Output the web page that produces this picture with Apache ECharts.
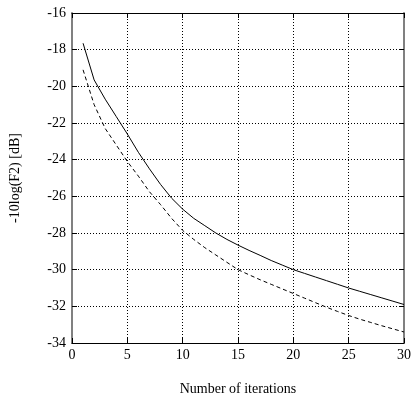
<!DOCTYPE html>
<html><head><meta charset="utf-8">
<script src="https://cdn.jsdelivr.net/npm/echarts@6/dist/echarts.min.js"></script>
<style>html,body{margin:0;padding:0;background:#fff}#c{width:414px;height:401px}</style>
</head><body><div id="c"></div>
<script>
var iterations = [1,2,3,4,5,6,7,8,9,10,11,12,13,14,15,16,17,18,19,20,21,22,23,24,25,26,27,28,29,30];
var solidValues = [-17.65,-19.65,-20.7,-21.65,-22.6,-23.6,-24.5,-25.35,-26.1,-26.7,-27.2,-27.6,-28.0,-28.35,-28.66,-28.95,-29.22,-29.5,-29.75,-30.0,-30.2,-30.4,-30.6,-30.8,-31.0,-31.18,-31.36,-31.54,-31.72,-31.9];
var dashedValues = [-19.1,-21.0,-22.3,-23.2,-24.1,-24.9,-25.75,-26.45,-27.2,-27.86,-28.35,-28.8,-29.2,-29.6,-30.0,-30.28,-30.55,-30.8,-31.05,-31.3,-31.55,-31.8,-32.05,-32.28,-32.5,-32.7,-32.88,-33.06,-33.23,-33.4];
var xTitle = 'Number of iterations';
var yTitle = '-10log(F2) [dB]';

function pairs(xs, ys){ return xs.map(function(x,i){return [x, ys[i]];}); }
var font = 'Liberation Serif';
var chart = echarts.init(document.getElementById('c'), null, {renderer:'canvas'});
var tickIn = {show:true, inside:true, length:5, lineStyle:{color:'#000', width:1}};
chart.setOption({
  animation:false,
  backgroundColor:'#fff',
  grid:{left:69, right:8, top:13, bottom:51, containLabel:false},
  xAxis:[{
    type:'value', min:0, max:30, interval:5, position:'bottom',
    name:xTitle, nameLocation:'middle', nameGap:39,
    nameTextStyle:{fontFamily:font, fontSize:14, color:'#000'},
    axisLine:{show:true, onZero:false, lineStyle:{color:'#000', width:1}},
    axisTick:tickIn,
    axisLabel:{fontFamily:font, fontSize:14, color:'#000', margin:5},
    splitLine:{show:true, lineStyle:{color:'#000', type:[1,2], width:1}}
  },{
    type:'value', min:0, max:30, interval:5, position:'top',
    axisLine:{show:true, onZero:false, lineStyle:{color:'#000', width:1}},
    axisTick:tickIn, axisLabel:{show:false}, splitLine:{show:false}
  }],
  yAxis:[{
    type:'value', min:-34, max:-16, interval:2, position:'left',
    name:yTitle, nameLocation:'middle', nameGap:50, nameRotate:90,
    nameTextStyle:{fontFamily:font, fontSize:14, color:'#000'},
    axisLine:{show:true, onZero:false, lineStyle:{color:'#808080', width:2}},
    axisTick:tickIn,
    axisLabel:{fontFamily:font, fontSize:14, color:'#000', margin:6},
    splitLine:{show:true, lineStyle:{color:'#000', type:[1,2], width:1}}
  },{
    type:'value', min:-34, max:-16, interval:2, position:'right',
    axisLine:{show:true, onZero:false, lineStyle:{color:'#808080', width:2}},
    axisTick:tickIn, axisLabel:{show:false}, splitLine:{show:false}
  }],
  series:[{
    type:'line', data:pairs(iterations, solidValues), showSymbol:false, symbol:'none',
    lineStyle:{color:'#000', width:1}, z:5
  },{
    type:'line', data:pairs(iterations, dashedValues), showSymbol:false, symbol:'none',
    lineStyle:{color:'#000', width:1, type:[4,3]}, z:5
  }]
});
</script></body></html>
